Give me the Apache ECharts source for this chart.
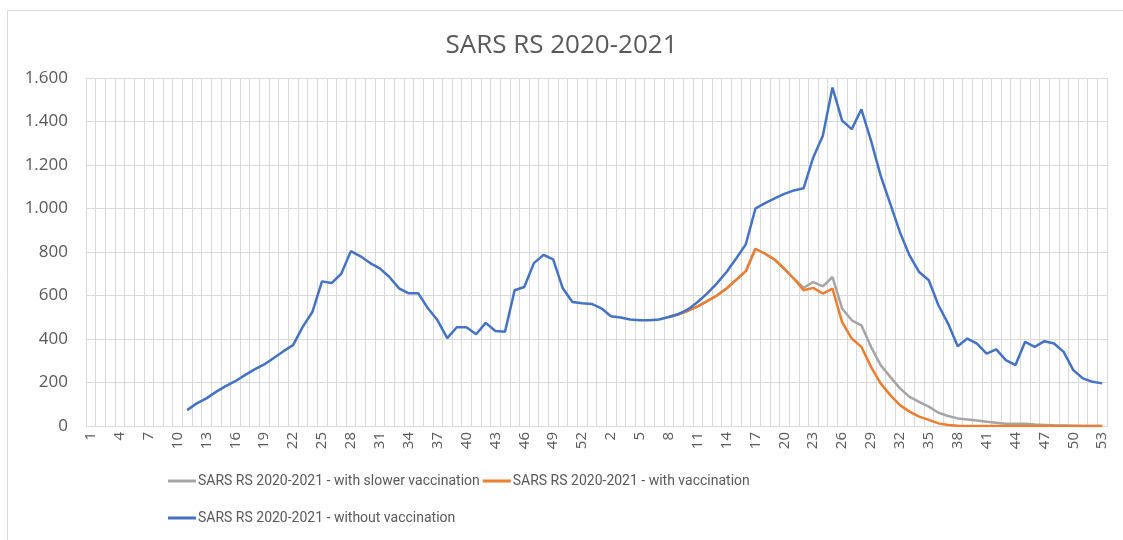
<!DOCTYPE html>
<html lang="en">
<head>
    <meta charset="UTF-8">
    <title>SARS RS 2020-2021</title>
    <script type="text/javascript" src="https://cdn.jsdelivr.net/npm/echarts@6/dist/echarts.min.js"></script>
    <style type="text/css">
        html,body{margin:0;padding:0;background:#fff;}
        #main{width:1123px;height:540px;}
    </style>
</head>
<body>
<div id="main"></div>
<script type="text/javascript">
    // semanas 2020 (1-53) e 2021 (1-53)
    var weeks2020 = [];
    var weeks2021 = [];
    for (var w = 1; w <= 53; w++) { weeks2020.push(String(w)); weeks2021.push(String(w)); }
    var categories = weeks2020.concat(weeks2021);

    var yTicks = [0, 200, 400, 600, 800, 1000, 1200, 1400, 1600];

    // sem vacinação: 2020 semana 11 .. 2021 semana 53
    var noVacc2020 = [null, null, null, null, null, null, null, null, null, null,
        73, 104, 127, 157, 183, 206, 234, 260, 283, 313, 344, 372, 456, 524, 665, 657, 700, 804, 780, 749,
        725, 685, 633, 610, 610, 541, 486, 404, 454, 454, 422, 474, 437, 433, 624, 639, 749, 787, 766, 633,
        570, 564, 561];
    var noVacc2021 = [541, 505, 499, 490, 486, 486, 490, 501, 514, 536,
        570, 610, 656, 708, 770, 835, 1000, 1025, 1047, 1067,
        1083, 1093, 1235, 1335, 1556, 1404, 1365, 1456, 1312, 1151,
        1021, 891, 784, 708, 670, 555, 471, 367, 402, 379,
        333, 352, 303, 280, 387, 364, 390, 379, 341, 257,
        219, 203, 196];

    // com vacinação: 2021 semana 8 .. 53
    var vacc2021 = [null, null, null, null, null, null, null, 501, 514, 530,
        550, 574, 600, 632, 672, 712, 815, 792, 765, 723,
        677, 624, 635, 609, 632, 478, 402, 364, 272, 196,
        142, 96, 66, 43, 28, 12, 5, 1, 0, 0,
        0, 0, 0, 0, 0, 0, 0, 0, 0, 0,
        0, 0, 0];

    // vacinação mais lenta: 2021 semana 8 .. 53
    var slowVacc2021 = [null, null, null, null, null, null, null, 501, 514, 530,
        550, 574, 600, 632, 672, 712, 815, 792, 765, 723,
        677, 635, 662, 642, 685, 540, 486, 463, 364, 280,
        226, 173, 134, 111, 89, 61, 46, 35, 30, 25,
        20, 15, 10, 10, 10, 7, 5, 3, 2, 1,
        0, 0, 0];

    var empty2020 = [];
    for (var k = 0; k < 53; k++) { empty2020.push(null); }

    var sNames = ['SARS RS 2020-2021 - with slower vaccination',
        'SARS RS 2020-2021 - with vaccination',
        'SARS RS 2020-2021 - without vaccination'];
    var sColors = ['#A5A5A5', '#ED7D31', '#4472C4'];
    var sData = [empty2020.concat(slowVacc2021), empty2020.concat(vacc2021), noVacc2020.concat(noVacc2021)];

    var txtColor = '#595959';
    var gridColor = '#d9d9d9';
    var font = 'Open Sans';

    var series = [];
    for (var i = 0; i < sNames.length; i++) {
        series.push({
            name: sNames[i],
            type: 'line',
            data: sData[i],
            symbol: 'none',
            smooth: false,
            lineStyle: {color: sColors[i], width: 2.5},
            itemStyle: {color: sColors[i]}
        });
    }

    var legendCommon = {
        left: 163,
        itemWidth: 28,
        itemHeight: 3,
        itemGap: 3,
        icon: 'rect',
        textStyle: {color: txtColor, fontSize: 14, fontFamily: 'Roboto', padding: [0, 0, 0, -3]}
    };

    var myChart = echarts.init(document.getElementById('main'));
    var option = {
        animation: false,
        backgroundColor: '#fff',
        title: {
            text: 'SARS RS 2020-2021',
            left: 'center',
            top: 28,
            textStyle: {color: txtColor, fontSize: 26, fontWeight: 'normal', fontFamily: font}
        },
        graphic: [{
            type: 'rect',
            shape: {x: 7.5, y: 10.5, width: 1300, height: 700},
            style: {fill: 'none', stroke: gridColor, lineWidth: 1},
            silent: true
        }],
        legend: [
            Object.assign({top: 469, data: [sNames[0], sNames[1]]}, legendCommon),
            Object.assign({top: 506, data: [sNames[2]]}, legendCommon)
        ],
        grid: {left: 86, right: 16, top: 78, bottom: 114},
        xAxis: {
            type: 'category',
            data: categories,
            boundaryGap: true,
            axisLine: {show: true, lineStyle: {color: gridColor}},
            axisTick: {show: false},
            splitLine: {show: true, interval: 0, lineStyle: {color: gridColor, width: 1}},
            axisLabel: {
                interval: 2,
                rotate: 90,
                color: txtColor,
                fontSize: 15,
                fontFamily: font,
                margin: 6
            }
        },
        yAxis: {
            type: 'value',
            min: yTicks[0],
            max: yTicks[yTicks.length - 1],
            interval: 200,
            axisLine: {show: false},
            axisTick: {show: false},
            splitLine: {show: true, lineStyle: {color: gridColor, width: 1}},
            axisLabel: {
                color: txtColor,
                fontSize: 17,
                fontFamily: font,
                margin: 18,
                formatter: function (v) {
                    return String(v).replace(/\B(?=(\d{3})+(?!\d))/g, '.');
                }
            }
        },
        series: series
    };
    myChart.setOption(option);
</script>
</body>
</html>
